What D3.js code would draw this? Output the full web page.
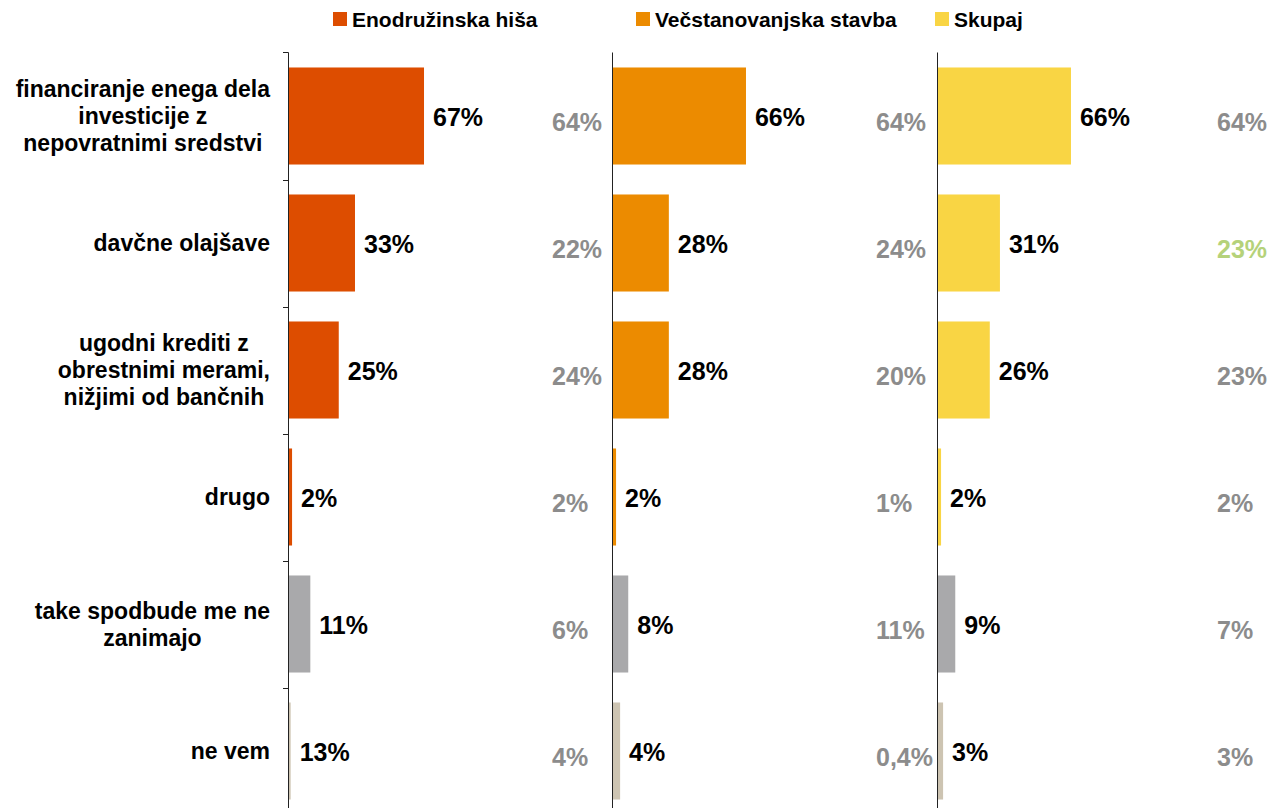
<!DOCTYPE html>
<html>
<head>
<meta charset="utf-8">
<script src="https://cdn.jsdelivr.net/npm/d3@7"></script>
<style>
  body { margin: 0; background: #fff; }
  svg { font-family: "Liberation Sans", Arial, sans-serif; font-weight: bold; }
</style>
</head>
<body>
<div id="chart"></div>
<script>
// DATA
var categories = [
  ["financiranje enega dela", "investicije z", "nepovratnimi sredstvi"],
  ["davčne olajšave"],
  ["ugodni krediti z", "obrestnimi merami,", "nižjimi od bančnih"],
  ["drugo"],
  ["take spodbude me ne", "zanimajo"],
  ["ne vem"]
];
var seriesNames = ["Enodružinska hiša", "Večstanovanjska stavba", "Skupaj"];

// bar lengths (%) per panel
var houseValues = [67, 33, 25, 2, 11, 1.3];
var blockValues = [66, 28, 28, 2, 8, 4];
var totalValues = [66, 31, 26, 2, 9, 3];

// labels printed next to bars
var houseLabels = ["67%", "33%", "25%", "2%", "11%", "13%"];
var blockLabels = ["66%", "28%", "28%", "2%", "8%", "4%"];
var totalLabels = ["66%", "31%", "26%", "2%", "9%", "3%"];

// grey comparison labels at the right of each panel
var houseCompare = ["64%", "22%", "24%", "2%", "6%", "4%"];
var blockCompare = ["64%", "24%", "20%", "1%", "11%", "0,4%"];
var totalCompare = ["64%", "23%", "23%", "2%", "7%", "3%"];

var panels = [
  {name: seriesNames[0], values: houseValues, labels: houseLabels, compare: houseCompare, color: "#DD4D00"},
  {name: seriesNames[1], values: blockValues, labels: blockLabels, compare: blockCompare, color: "#EC8B00"},
  {name: seriesNames[2], values: totalValues, labels: totalLabels, compare: totalCompare, color: "#F9D544"}
];

// LAYOUT
var width = 1273, height = 808;
var panelX = [288, 612, 937];
var compareX = [552, 876, 1217];
var legendX = [333, 636, 935];

var svg = d3.select("#chart").append("svg")
  .attr("width", width)
  .attr("height", height);

var y = d3.scaleBand()
  .domain(d3.range(categories.length))
  .range([52.5, 814.5])
  .paddingInner(0.236)
  .paddingOuter(0.118);

var x = d3.scaleLinear().domain([0, 100]).range([0, 203]);

function barColor(panel, i) {
  if (i == 4) return "#A9A9AB";
  if (i == 5) return "#CDC4B2";
  return panel.color;
}

// category labels (lines centred, block right-aligned)
categories.forEach(function(lines, i) {
  var g = svg.append("g").attr("class", "cat");
  var lh = 27;
  var cy = y(i) + y.bandwidth() / 2;
  var texts = lines.map(function(l, j) {
    return g.append("text")
      .attr("y", cy + (j - (lines.length - 1) / 2) * lh)
      .attr("dominant-baseline", "central")
      .attr("text-anchor", "middle")
      .style("font-size", "23px")
      .attr("fill", "#000")
      .text(l);
  });
  var maxW = d3.max(texts, function(t) { return t.node().getComputedTextLength(); });
  texts.forEach(function(t) { t.attr("x", 270 - maxW / 2); });
});

panels.forEach(function(panel, p) {
  var g = svg.append("g").attr("transform", "translate(" + panelX[p] + ",0)");

  g.selectAll(".bar")
    .data(panel.values)
    .enter()
    .append("rect")
    .attr("class", "bar")
    .attr("x", 0)
    .attr("y", function(d, i) { return y(i); })
    .attr("width", function(d) { return x(d); })
    .attr("height", y.bandwidth())
    .attr("fill", function(d, i) { return barColor(panel, i); });

  // axis line
  g.append("line")
    .attr("x1", 0.5).attr("x2", 0.5)
    .attr("y1", 52.5).attr("y2", height)
    .attr("stroke", "#222")
    .attr("stroke-width", 1);

  // ticks on first panel only
  if (p == 0) {
    g.selectAll(".tick")
      .data(d3.range(categories.length))
      .enter()
      .append("line")
      .attr("x1", -5).attr("x2", 0.5)
      .attr("y1", function(d) { return Math.round(y(d) - y.step() * y.paddingInner() / 2) + 0.5; })
      .attr("y2", function(d) { return Math.round(y(d) - y.step() * y.paddingInner() / 2) + 0.5; })
      .attr("stroke", "#222");
  }

  g.selectAll(".val")
    .data(panel.values)
    .enter()
    .append("text")
    .attr("class", "val")
    .attr("x", function(d) { return x(d) + 9; })
    .attr("y", function(d, i) { return y(i) + y.bandwidth() / 2 + 1; })
    .attr("dominant-baseline", "central")
    .style("font-size", "25px")
    .attr("fill", "#000")
    .text(function(d, i) { return panel.labels[i]; });

  svg.selectAll(".cmp" + p)
    .data(panel.compare)
    .enter()
    .append("text")
    .attr("class", "cmp" + p)
    .attr("x", compareX[p])
    .attr("y", function(d, i) { return y(i) + y.bandwidth() / 2 + 6; })
    .attr("dominant-baseline", "central")
    .style("font-size", "25px")
    .attr("fill", function(d, i) { return (p == 2 && i == 1) ? "#B5D27A" : "#8C8C8C"; })
    .text(function(d) { return d; });

  // legend
  var lg = svg.append("g").attr("transform", "translate(" + legendX[p] + ",19)");
  lg.append("rect")
    .attr("x", 0).attr("y", -7)
    .attr("width", 14).attr("height", 14)
    .attr("fill", panel.color);
  lg.append("text")
    .attr("x", 19)
    .attr("y", 0)
    .attr("dominant-baseline", "central")
    .style("font-size", "21px")
    .attr("fill", "#000")
    .text(panel.name);
});
</script>
</body>
</html>
